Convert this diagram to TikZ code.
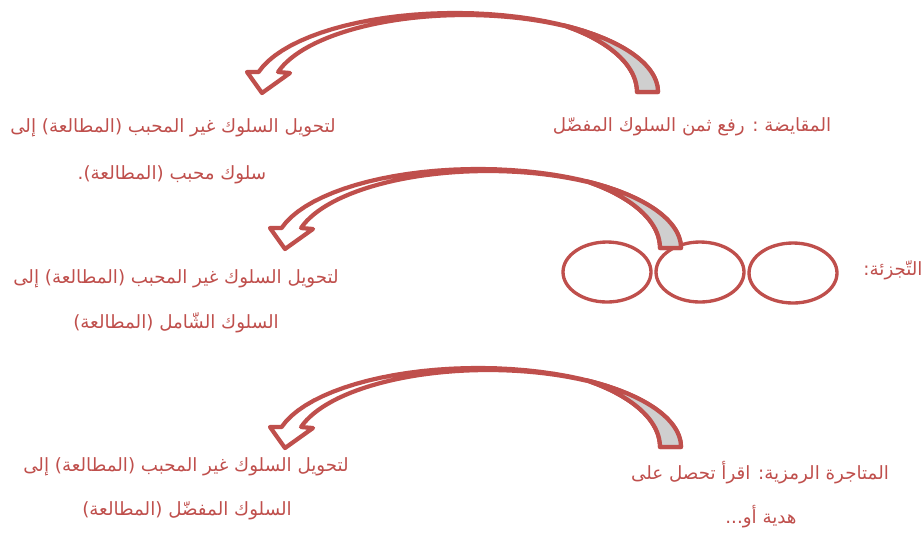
\documentclass[tikz,border=0pt]{standalone}
\usepackage{fontspec}
\usetikzlibrary{shapes.geometric}
\newfontfamily\arabicfont[Script=Arabic]{DejaVu Sans}
\TeXXeTstate=1
\definecolor{ShapeClr}{rgb}{0.75,0.31,0.30}
\definecolor{ShadeClr}{rgb}{0.81,0.81,0.81}

% curved block arrow, drawn in pixel units and shifted by (#1,#2)
\newcommand{\CurvArrow}[2]{%
\begin{scope}[shift={(#1,#2)}]
\filldraw[fill=white] plot[domain=0:165.3] ({455+203*cos(\x)},{92-79*sin(\x)})
  -- (247,72) -- (262,93) -- (290,73) -- (278,72)
  -- plot[domain=164.9:59.6] ({465+193.6*cos(\x)},{92-77*sin(\x)})
  -- plot[domain=53.6:0] ({455+182*cos(\x)},{92-83*sin(\x)}) -- cycle;
\filldraw[fill=ShadeClr] plot[domain=0:57.9] ({455+203*cos(\x)},{92-79*sin(\x)})
  -- plot[domain=53.6:0] ({455+182*cos(\x)},{92-83*sin(\x)}) -- cycle;
\end{scope}}

\begin{document}
\begin{tikzpicture}[x=0.02cm,y=-0.02cm,
  line width=2.4pt,line join=round,draw=ShapeClr,samples=40,
  txt/.style={text=ShapeClr,font=\arabicfont\fontsize{10.4}{13}\selectfont,inner sep=0pt},
  blob/.style={ellipse,draw=ShapeClr,line width=1.9pt,minimum width=1.76cm,minimum height=1.2cm}]
\useasboundingbox (0,0) rectangle (922,532);

% segments
\node[blob] (seg1) at (607,272) {};
\node[blob] (seg2) at (700,272) {};
\node[blob] (seg3) at (793,273) {};

\CurvArrow{0}{0}
\CurvArrow{23}{156}
\CurvArrow{23}{355}

% first row
\node[txt] (trade) at (692,127) {\beginR المقايضة : رفع ثمن السلوك المفضّل\endR};
\node[txt] (toA) at (173,128) {\beginR لتحويل السلوك غير المحبب (المطالعة) إلى\endR};
\node[txt] (toAb) at (172,175) {\beginR سلوك محبب (المطالعة).\endR};

% second row
\node[txt] (split) at (893,270) {\beginR التّجزئة:\endR};
\node[txt] (toB) at (176,279) {\beginR لتحويل السلوك غير المحبب (المطالعة) إلى\endR};
\node[txt] (toBb) at (176,323) {\beginR السلوك الشّامل (المطالعة)\endR};

% third row
\node[txt] (token) at (760,473) {\beginR المتاجرة الرمزية: اقرأ تحصل على\endR};
\node[txt] (tokenb) at (761,517) {\beginR هدية أو...\endR};
\node[txt] (toC) at (186,467) {\beginR لتحويل السلوك غير المحبب (المطالعة) إلى\endR};
\node[txt] (toCb) at (187,511) {\beginR السلوك المفضّل (المطالعة)\endR};

\end{tikzpicture}
\end{document}
